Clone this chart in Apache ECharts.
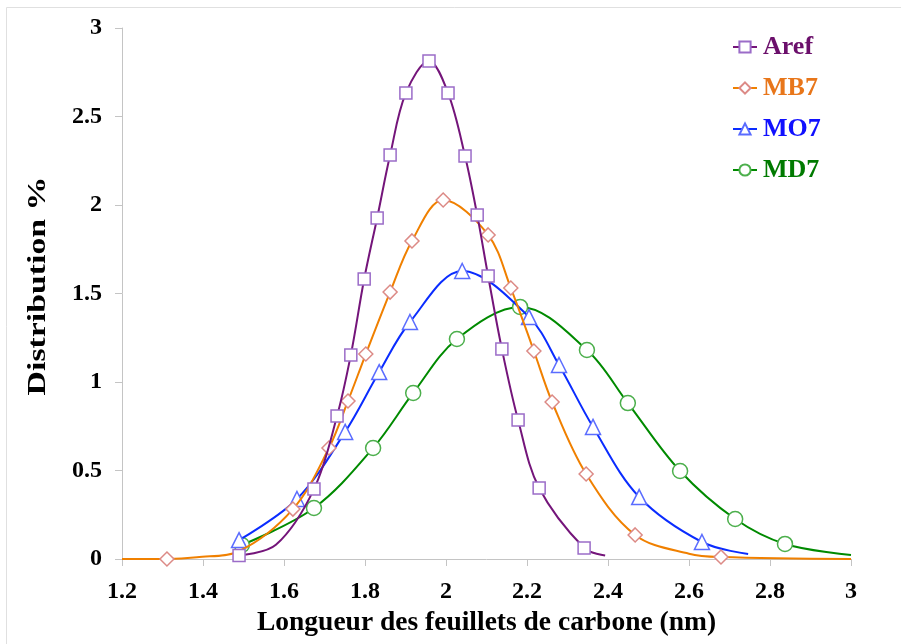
<!DOCTYPE html>
<html>
<head>
<meta charset="utf-8">
<script src="https://cdn.jsdelivr.net/npm/echarts@6/dist/echarts.min.js"></script>
<style>html,body{margin:0;padding:0;background:#fff}#c{width:901px;height:644px}</style>
</head>
<body>
<div id="c"></div>
<script>
// Series names
var seriesNames = ['Aref', 'MB7', 'MO7', 'MD7'];
// Marker points (x in nm, y in %)
var arefX = [1.489, 1.674, 1.731, 1.765, 1.798, 1.830, 1.862, 1.901, 1.958, 2.005, 2.047, 2.077, 2.104, 2.138, 2.178, 2.230, 2.341];
var arefY = [0.02, 0.395, 0.808, 1.153, 1.582, 1.927, 2.282, 2.633, 2.814, 2.633, 2.277, 1.944, 1.599, 1.186, 0.785, 0.401, 0.062];
var mb7X = [1.311, 1.622, 1.711, 1.758, 1.802, 1.862, 1.916, 1.993, 2.104, 2.160, 2.217, 2.262, 2.346, 2.467, 2.679];
var mb7Y = [0.0, 0.282, 0.627, 0.893, 1.158, 1.508, 1.797, 2.028, 1.831, 1.531, 1.175, 0.887, 0.480, 0.136, 0.011];
var mo7X = [1.489, 1.632, 1.751, 1.835, 1.911, 2.040, 2.205, 2.279, 2.363, 2.477, 2.632];
var mo7Y = [0.107, 0.339, 0.718, 1.056, 1.339, 1.627, 1.367, 1.096, 0.746, 0.350, 0.096];
var md7X = [1.496, 1.674, 1.820, 1.919, 2.027, 2.183, 2.348, 2.449, 2.578, 2.714, 2.837];
var md7Y = [0.079, 0.288, 0.627, 0.938, 1.243, 1.424, 1.181, 0.881, 0.497, 0.226, 0.085];
// Curve points (no marker)
var arefCurveX = [1.58, 2.393];
var arefCurveY = [0.08, 0.02];
var mb7CurveX = [1.2, 1.385, 1.489, 2.60, 3.0];
var mb7CurveY = [0.0, 0.01, 0.045, 0.03, 0.0];
var mo7CurveX = [2.746];
var mo7CurveY = [0.028];
var md7CurveX = [3.0];
var md7CurveY = [0.023];
// Axis ticks
var xMin = 1.2, xMax = 3, xStep = 0.2;
var yMin = 0, yMax = 3, yStep = 0.5;
var xTitle = 'Longueur des feuillets de carbone (nm)';
var yTitle = 'Distribution %';

function build(mx, my, cx, cy) {
  var pts = [];
  for (var i = 0; i < mx.length; i++) pts.push({value: [mx[i], my[i]], m: true});
  for (var j = 0; j < cx.length; j++) pts.push({value: [cx[j], cy[j]], m: false});
  pts.sort(function (a, b) { return a.value[0] - b.value[0]; });
  return pts.map(function (p) {
    return p.m ? {value: p.value} : {value: p.value, symbol: 'none'};
  });
}

var lineColors = ['#74157a', '#f08000', '#0a2cff', '#008a00'];
var markColors = ['#9b6cc8', '#dc8a86', '#5a6cff', '#4caf4c'];
var textColors = ['#6b0f6b', '#e8761a', '#1010ff', '#007a00'];
var symbols = ['rect', 'diamond', 'triangle', 'circle'];
var sizes = [12, 14, 15, 15];
var datas = [
  build(arefX, arefY, arefCurveX, arefCurveY),
  build(mb7X, mb7Y, mb7CurveX, mb7CurveY),
  build(mo7X, mo7Y, mo7CurveX, mo7CurveY),
  build(md7X, md7Y, md7CurveX, md7CurveY)
];

var FONT = '"Liberation Serif", "Times New Roman", serif';
var series = seriesNames.map(function (n, i) {
  return {
    name: n, type: 'line', data: datas[i], smooth: 0.35,
    symbol: symbols[i], symbolSize: sizes[i], showAllSymbol: true,
    lineStyle: {color: lineColors[i], width: 2},
    itemStyle: {color: '#fff', borderColor: markColors[i], borderWidth: 1.5},
    z: 10 - i
  };
});

var chart = echarts.init(document.getElementById('c'), null, {renderer: 'canvas'});
chart.setOption({
  animation: false,
  backgroundColor: '#fff',
  graphic: [
    {type: 'rect', shape: {x: 6.5, y: 7.5, width: 1000, height: 1000},
      style: {fill: 'none', stroke: '#e0e0e0', lineWidth: 1}, silent: true},
    {type: 'text', x: 38, y: 286, rotation: Math.PI / 2, scaleX: 1.3, scaleY: 1,
      style: {text: yTitle, fontFamily: FONT, fontWeight: 'bold', fontSize: 26, fill: '#000',
        align: 'center', verticalAlign: 'middle'}, silent: true}
  ],
  grid: {left: 122, right: 50, top: 28, bottom: 85, containLabel: false},
  legend: {
    orient: 'vertical', left: 727, top: 29, itemGap: 15,
    itemWidth: 24, itemHeight: 14,
    textStyle: {fontFamily: FONT, fontWeight: 'bold', fontSize: 26, padding: [0, 0, 0, 1]},
    data: seriesNames.map(function (n, i) {
      return {name: n, textStyle: {color: textColors[i]}};
    })
  },
  xAxis: {
    type: 'value', min: xMin, max: xMax, interval: xStep,
    name: xTitle, nameLocation: 'middle', nameGap: 48,
    nameTextStyle: {fontFamily: FONT, fontWeight: 'bold', fontSize: 27.5, color: '#000'},
    axisLine: {show: true, lineStyle: {color: '#c4c4c4', width: 1}},
    axisTick: {show: true, length: 7, lineStyle: {color: '#c4c4c4'}},
    axisLabel: {fontFamily: FONT, fontWeight: 'bold', fontSize: 24, color: '#000', margin: 21,
      formatter: function (v) { return String(Math.round(v * 10) / 10); }},
    splitLine: {show: false}
  },
  yAxis: {
    type: 'value', min: yMin, max: yMax, interval: yStep,
    axisLine: {show: true, lineStyle: {color: '#c4c4c4', width: 1}},
    axisTick: {show: true, length: 7, lineStyle: {color: '#c4c4c4'}},
    axisLabel: {fontFamily: FONT, fontWeight: 'bold', fontSize: 24, color: '#000', margin: 20,
      formatter: function (v) { return String(Math.round(v * 10) / 10); }},
    splitLine: {show: false}
  },
  series: series
});
</script>
</body>
</html>
